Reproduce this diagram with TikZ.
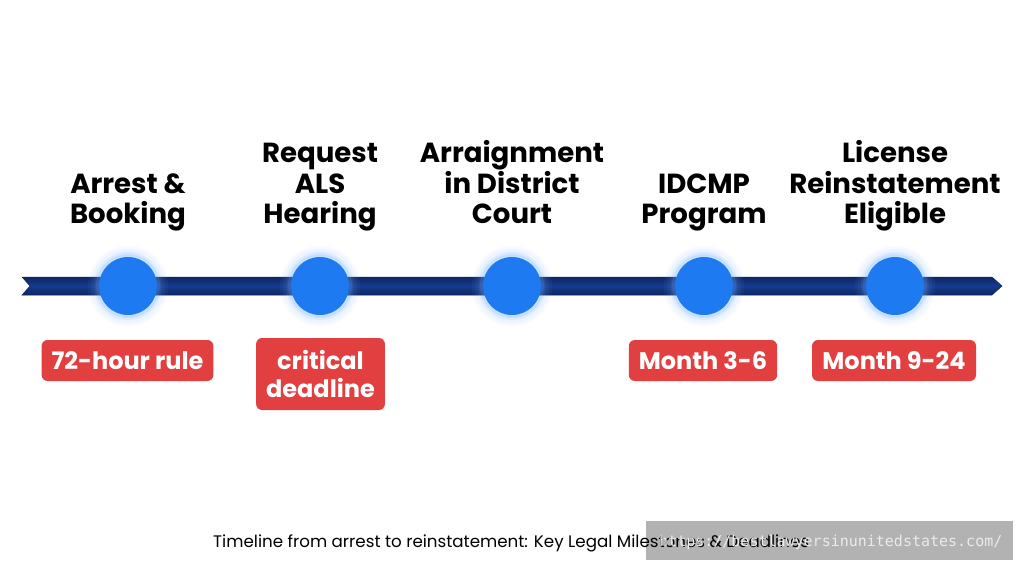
\documentclass[tikz,border=0pt]{standalone}
\usepackage{fontspec}
\setmainfont{Poppins}
\newfontfamily\wmfont{DejaVu Sans Mono}
\definecolor{navy}{RGB}{22,58,140}
\definecolor{navydark}{RGB}{14,38,100}
\definecolor{dotblue}{RGB}{30,122,240}
\definecolor{glowblue}{RGB}{110,175,255}
\definecolor{tagred}{RGB}{226,64,64}
\definecolor{wmgray}{RGB}{178,178,178}
\tikzset{
  title/.style={font=\fontsize{27.6}{30.5}\selectfont\bfseries, align=center, anchor=south, inner sep=0pt, text depth=0pt},
  dot/.style={circle, fill=dotblue, minimum size=58pt, inner sep=0pt},
  tag/.style={fill=tagred, rounded corners=6pt, text=white, font=\fontsize{24}{28}\selectfont\bfseries, align=center, inner xsep=10pt, minimum height=41pt},
}
\begin{document}
\begin{tikzpicture}[x=1pt,y=-1pt]
\useasboundingbox[fill=white] (0,0) rectangle (1024,572);
% bar
\shade[top color=navydark, bottom color=navydark, middle color=navy, draw=navydark, line width=0.5pt]
  (22,277) -- (992,277) -- (1002,286) -- (992,295) -- (22,295) -- (30,286) -- cycle;
% dots with glow
\foreach \x/\n in {128/d1, 320/d2, 512/d3, 704/d4, 895/d5}{
  \foreach \r/\o in {40/0.06, 37/0.08, 34/0.12, 32/0.18}{
    \fill[glowblue, opacity=\o] (\x,286) circle (\r);
  }
  \node[dot] (\n) at (\x,286) {};
}
% titles
\node[title] (t1) at (128,224) {Arrest \&\\Booking};
\node[title] (t2) at (320,224) {Request\\ALS\\Hearing};
\node[title] (t3) at (512,224) {Arraignment\\in District\\Court};
\node[title] (t4) at (704,224) {IDCMP\\Program};
\node[title] (t5) at (895,224) {License\\Reinstatement\\Eligible};
% tags
\node[tag, minimum width=171pt] (g1) at (127.5,360.5) {72-hour rule};
\node[tag, minimum width=125pt, minimum height=72pt] (g2) at (320.5,374) {critical\\deadline};
\node[tag, minimum width=148pt] (g4) at (703,360.5) {Month 3-6};
\node[tag, minimum width=164pt] (g5) at (894,360.5) {Month 9-24};
% watermark box
\fill[wmgray] (646,521) rectangle (1013,560);
% caption
\node[anchor=base west, inner sep=0pt, font=\fontsize{16.7}{20}\selectfont] (cap) at (213,547) {Timeline from arrest to reinstatement: Key Legal Milestones \& Deadlines};
\node[anchor=base west, inner sep=0pt, text=white!92!black, font=\wmfont\fontsize{15}{18}\selectfont] (wm) at (659,546) {https://bestlawyersinunitedstates.com/};
\end{tikzpicture}
\end{document}
